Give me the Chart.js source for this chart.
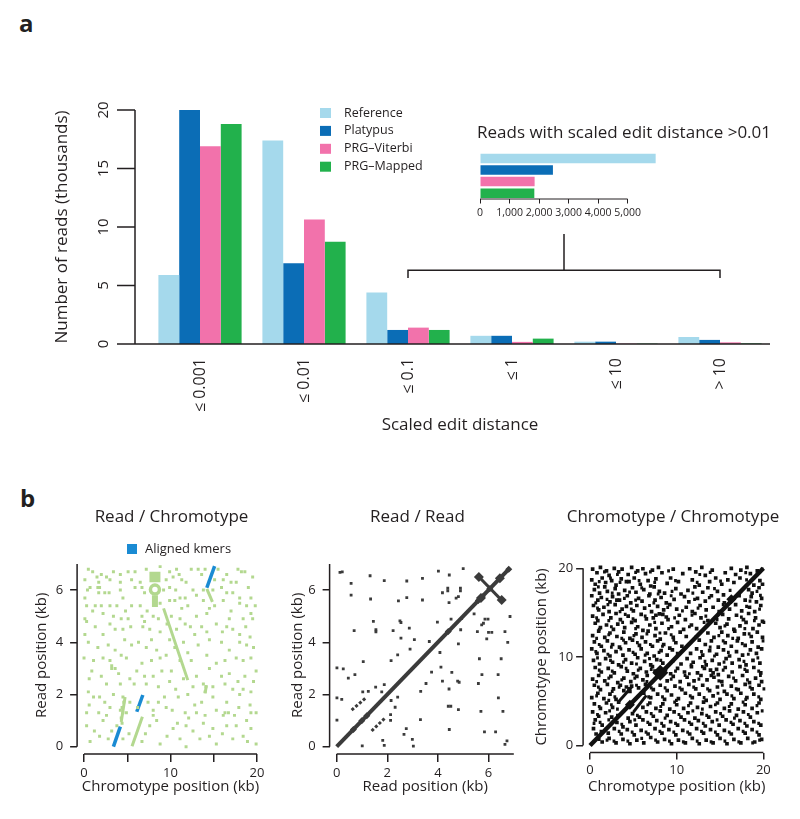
<!DOCTYPE html>
<html>
<head>
<meta charset="utf-8">
<script src="https://cdn.jsdelivr.net/npm/chart.js@4.4.1/dist/chart.umd.min.js"></script>
<style>
  body { margin: 0; background: #fff; width: 800px; height: 819px; position: relative; overflow: hidden; }
  canvas { position: absolute; }
  .panel { position: absolute; font: bold 24px 'Open Sans', sans-serif; color: #231f20; line-height: 24px; }
</style>
</head>
<body>
<div class="panel" style="left:19px; top:11px;">a</div>
<div class="panel" style="left:20px; top:486px;">b</div>
<canvas id="bars" width="800" height="460" style="left:0; top:0;"></canvas>
<canvas id="inset" width="330" height="110" style="left:470px; top:110px;"></canvas>
<canvas id="rc" width="280" height="307" style="left:0; top:490px;"></canvas>
<canvas id="rr" width="270" height="307" style="left:270px; top:490px;"></canvas>
<canvas id="cc" width="280" height="307" style="left:520px; top:490px;"></canvas>
<script>
const INK = '#231f20';
Chart.defaults.font.family = "'Open Sans', 'DejaVu Sans', sans-serif";
Chart.defaults.color = INK;
Chart.defaults.animation = false;

// ---------- panel a: reads per scaled edit distance bin (thousands)
const distanceBins = ['≤ 0.001', '≤ 0.01', '≤ 0.1', '≤ 1', '≤ 10', '> 10'];
const methods = ['Reference', 'Platypus', 'PRG–Viterbi', 'PRG–Mapped'];
const methodColors = ['#a5d9ec', '#0b6db6', '#f272ab', '#22b14c'];
const reference  = [5.9, 17.4, 4.4, 0.7, 0.2, 0.6];
const platypus   = [20.0, 6.9, 1.2, 0.7, 0.2, 0.35];
const prgViterbi = [16.9, 10.65, 1.4, 0.18, 0.03, 0.14];
const prgMapped  = [18.8, 8.75, 1.2, 0.46, 0.03, 0.05];
const countTicks = [0, 5, 10, 15, 20];

// inset: reads with scaled edit distance > 0.01
const insetReads = [5950, 2470, 1850, 1840];
const insetTicks = [0, 1000, 2000, 3000, 4000, 5000];

// ---------- panel b: dot plots (kb)
const rcXTicks = [0, 5, 10, 15, 20], rcXLabels = [0, 10, 20];
const readTicks = [0, 2, 4, 6];
const ccTicks = [0, 10, 20];

// read vs chromotype k-mer hits
const rcDots = [
  [0.5,6.8],[0.1,6.4],[1.5,6.5],[2.0,6.6],[3.4,6.7],[4.2,6.6],[5.1,6.7],[5.9,6.7],[8.8,6.9],[9.9,6.7],[10.7,6.8],[12.4,6.8],[13.2,6.8],[14.0,6.8],[15.5,6.8],[16.5,6.6],[18.2,6.7],[18.6,6.7],
  [1.7,6.3],[3.0,6.4],[4.2,6.3],[5.5,6.4],[6.5,6.3],[9.5,6.4],[10.3,6.5],[11.3,6.4],[11.8,6.3],[15.1,6.4],[16.1,6.4],[17.0,6.3],[17.6,6.3],[1.6,6.1],[1.7,5.9],
  [0.7,6.1],[1.8,6.1],[2.4,5.9],[4.2,6.0],[4.5,5.7],[5.9,6.1],[6.7,6.1],[9.2,6.0],[9.9,6.1],[11.1,5.7],[11.7,5.7],[13.0,5.8],[13.8,6.0],[15.9,6.1],[16.5,5.9],[17.2,5.9],[18.0,5.7],[19.3,5.7],[0.1,5.7],
  [0.3,5.4],[1.3,5.4],[2.0,5.4],[3.0,5.4],[3.8,5.4],[5.5,5.4],[6.5,5.4],[9.9,5.6],[10.5,5.6],[12.0,5.4],[13.8,5.6],[15.1,5.4],[16.1,5.6],[18.0,5.5],[18.8,5.4],
  [0.1,4.9],[0.3,4.8],[2.2,5.1],[3.4,5.0],[4.3,4.9],[5.1,4.9],[6.7,5.0],[7.0,4.8],[8.0,5.0],[8.6,4.9],[10.1,5.0],[11.1,4.9],[13.0,5.0],[14.2,5.1],[16.8,4.9],[18.4,4.9],[19.3,5.1],[19.5,4.9],
  [0.1,4.3],[2.2,4.3],[3.6,4.5],[4.5,4.5],[6.8,4.6],[7.6,4.5],[8.8,4.4],[10.7,4.5],[11.7,4.7],[12.8,4.3],[13.6,4.6],[14.2,4.4],[15.3,4.7],[16.5,4.6],[17.2,4.5],[18.0,4.3],[19.2,4.2],
  [0.5,4.0],[2.8,3.9],[4.7,4.1],[5.5,3.9],[6.3,4.0],[7.8,4.1],[9.9,4.1],[11.5,4.0],[13.2,3.9],[14.5,4.1],[15.9,4.0],[18.8,3.9],[18.0,4.0],
  [0.0,3.4],[1.1,3.3],[2.2,3.4],[3.0,3.3],[4.3,3.5],[4.9,3.4],[6.7,3.2],[7.8,3.3],[8.8,3.4],[9.5,3.5],[11.1,3.3],[12.4,3.3],[14.2,3.5],[15.3,3.2],[16.3,3.3],[17.6,3.4],[18.4,3.3],[19.3,3.4],[3.2,3.1],[3.6,3.0],
  [0.9,2.9],[3.2,3.0],[4.0,2.8],[6.1,2.9],[7.0,2.7],[9.0,2.9],[10.1,2.9],[13.0,2.7],[14.5,3.0],[15.9,2.7],[16.8,2.8],[18.6,2.7],[19.9,2.9],
  [0.5,2.1],[2.6,2.4],[4.2,2.4],[5.3,2.6],[7.2,2.4],[8.6,2.3],[9.9,2.5],[11.5,2.6],[12.6,2.3],[13.8,2.4],[14.9,2.3],[16.3,2.4],[17.2,2.2],[18.4,2.2],[19.3,2.1],
  [1.1,1.9],[1.8,1.9],[2.4,1.7],[3.4,2.0],[5.3,1.7],[7.4,1.7],[9.3,1.9],[10.9,1.9],[12.8,1.6],[13.6,1.7],[14.9,1.9],[16.5,1.7],[18.0,2.0],[19.2,1.6],
  [0.3,1.3],[1.7,1.3],[2.6,1.2],[4.2,1.4],[4.9,1.3],[8.0,1.4],[8.0,1.2],[9.5,1.5],[11.7,1.3],[13.0,1.3],[15.3,1.4],[16.1,1.2],[16.3,1.3],[16.7,1.3],[17.4,1.2],[19.3,1.3],[19.9,1.3],
  [0.3,0.8],[2.2,1.0],[3.8,0.8],[7.6,0.8],[8.4,1.0],[10.3,0.7],[11.8,0.8],[13.8,0.9],[14.9,0.7],[16.5,0.8],[17.6,0.8],[19.3,0.7],
  [0.7,0.2],[1.8,0.4],[4.5,0.3],[6.7,0.2],[8.8,0.1],[11.1,0.3],[11.8,0.0],[13.4,0.3],[14.5,0.4],[15.3,0.1],[17.2,0.3],[18.4,0.4],[19.9,0.1],
  [4.5,1.9],[4.6,1.7],[4.4,1.5],[4.5,1.3],[4.3,1.1],[4.4,0.9],[14.0,2.1],[14.1,2.3],
  [1.0,6.7],[2.6,6.5],[7.2,6.8],[11.0,6.6],[13.6,6.6],[17.8,6.8],[19.5,6.5],
  [0.4,6.0],[2.9,5.9],[7.0,5.9],[10.6,6.0],[12.6,6.0],[14.9,6.0],[19.0,6.1],
  [1.0,5.2],[4.8,5.2],[7.3,5.2],[8.8,5.5],[11.3,5.3],[14.5,5.3],[17.0,5.2],[19.8,5.4],
  [1.3,4.6],[3.0,4.7],[5.4,4.6],[9.6,4.7],[12.3,4.6],[16.0,4.4],[18.7,4.6],
  [1.6,3.8],[3.6,3.7],[7.2,3.8],[8.4,3.7],[10.5,3.8],[12.0,3.6],[16.8,3.7],[19.6,3.8],
  [0.6,2.6],[2.0,2.7],[5.8,2.4],[8.0,2.7],[10.6,2.2],[12.0,2.0],[17.8,2.5],[19.6,2.5],
  [0.6,1.6],[3.0,1.5],[6.2,1.5],[8.6,1.7],[10.2,1.4],[12.1,1.1],[14.0,1.2],[17.9,1.5],[18.8,1.0],
  [1.2,0.6],[2.8,0.3],[3.2,0.6],[5.2,0.5],[7.1,0.5],[9.6,0.4],[10.8,0.9],[12.6,0.6],[16.0,0.5],[18.9,0.2]
];
const rcStreaks = [
  [[9.2,5.3],[12.0,2.55]],
  [[5.55,0.02],[6.75,1.15]],
  [[4.3,0.95],[4.75,1.9]],
  [[14.2,6.05],[14.85,5.55]],
  [[14.0,2.05],[14.15,2.35]]
];
const rcRepeatBlock = [[[8.2,6.3],[8.2,6.7]], [[8.2,5.35],[8.2,5.8]]];
const rcRepeatRing = [[8.2,6.02]];
const rcAligned = [
  [[3.4,0.0],[4.2,0.77]],
  [[6.1,1.34],[6.8,1.98]],
  [[14.2,6.09],[15.1,6.92]]
];

// read vs read
const rrDots = [
  [0.13,6.68],[0.22,6.7],[0.57,6.26],[0.57,5.81],[1.32,6.55],[1.88,6.36],[1.34,5.66],[2.77,6.35],[2.77,5.71],[2.44,5.59],[3.39,6.45],[3.39,5.62],[4.02,6.73],[4.45,6.58],[5.0,6.82],[4.18,5.9],[4.39,6.07],[4.39,5.97],[4.89,6.07],[4.89,5.97],[4.72,5.69],[4.81,5.75],[4.44,5.52],
  [1.45,4.8],[1.55,4.48],[1.55,4.4],[0.69,4.45],[2.23,4.45],[2.5,4.82],[2.54,4.76],[2.87,4.54],[2.54,4.16],[3.07,4.1],[3.66,4.03],[3.98,4.77],[4.52,4.89],[4.94,4.92],[5.43,5.09],[5.86,4.89],[5.98,4.89],[5.73,4.67],[5.8,4.73],[5.56,4.41],[6.0,4.38],[6.13,4.38],[5.93,4.13],[6.65,4.41],[6.85,4.99],[6.76,4.0],[4.9,4.48],[4.81,3.94],[4.08,3.61],
  [2.9,3.74],[2.41,3.52],[2.15,3.3],[1.05,3.26],[0.01,3.02],[0.26,2.98],[0.46,2.63],[0.72,2.76],[1.88,2.38],[1.54,2.28],[1.03,2.1],[1.25,2.12],[1.78,2.1],[2.15,1.77],[2.41,1.9],[2.31,1.51],[2.13,1.23],[2.13,1.01],[3.31,1.04],[3.53,2.42],[3.32,2.12],[3.75,2.86],[4.18,2.51],[4.12,3.05],[4.55,2.85],[4.44,2.21],[4.78,2.51],[4.84,2.47],[4.41,1.55],[4.51,1.55],[4.81,1.42],[4.45,0.66],
  [5.64,3.37],[5.6,2.42],[5.74,2.76],[5.7,1.35],[6.38,2.76],[6.5,3.37],[6.39,1.87],[6.57,1.35],[5.84,0.57],[6.28,0.57],[6.65,0.09],[6.73,0.22],[2.75,0.69],[2.66,0.47],[2.99,0.28],[3.03,0.02],[1.88,0.05],[1.82,0.24],[1.01,0.03],[0.01,1.87],[0.2,1.81],[0.01,1.02]
];
const rrDiagonal = [[0,0],[6.85,6.85]];
const rrInverted = [[5.55,6.58],[6.58,5.55]];
const rrParallel = [[[0.59,1.4],[1.15,1.87]], [[1.38,0.6],[1.94,1.13]]];
const rrBeads = [[0.66,0.66],[0.99,0.99],[1.19,1.19],[4.41,4.41],[5.6,5.6],[5.75,5.75],[6.05,6.05],[6.8,6.8]];
const rrBlobs = [[5.62,6.5],[6.52,5.62],[6.45,6.45],[5.7,5.7]];

// chromotype vs chromotype
const ccDots = [
  [0.3,19.9],[0.8,19.5],[1.2,20.1],[1.9,19.7],[2.2,19.2],[2.8,20.0],[3.3,19.6],[3.7,19.9],[4.4,19.3],[4.8,20.1],[5.5,19.7],[6.1,19.95],[6.4,19.4],[7.2,19.8],[7.9,20.1],[8.3,19.5],[9.6,19.9],[10.7,19.4],[11.5,19.95],[12.2,19.6],[12.9,20.1],[13.3,19.2],[14.1,19.8],[15.6,19.5],[16.3,20.0],[16.8,19.3],[17.4,19.8],[18.1,20.1],[18.5,19.4],[19.3,19.7],
  [0.2,18.7],[0.6,18.2],[1.4,18.9],[1.8,18.4],[2.5,18.6],[3.0,18.1],[3.6,18.8],[4.2,18.5],[4.5,18.5],[5.1,18.9],[5.8,18.2],[6.7,18.6],[7.0,18.0],[7.6,18.8],[8.9,18.3],[9.3,18.9],[10.2,18.5],[11.8,18.7],[12.6,18.1],[13.8,18.5],[14.5,18.9],[15.2,18.2],[15.9,18.7],[16.6,18.4],[17.3,18.9],[18.9,18.1],[19.6,18.6],[19.9,18.2],
  [0.5,17.6],[1.1,17.2],[1.7,17.9],[2.0,17.4],[2.9,17.7],[3.3,17.1],[4.0,17.5],[4.9,17.8],[5.3,17.3],[6.2,17.6],[6.9,17.1],[7.4,17.9],[8.0,17.4],[8.6,17.2],[9.9,17.7],[10.5,17.1],[11.3,17.5],[12.1,17.9],[13.0,17.3],[13.6,17.8],[14.7,17.4],[15.4,17.0],[18.3,17.6],[18.7,17.2],[19.5,17.8],
  [0.2,16.9],[0.9,16.4],[1.3,16.7],[2.3,16.2],[2.6,16.8],[3.1,16.4],[3.4,16.4],[4.3,16.9],[4.7,16.1],[5.6,16.6],[6.0,16.3],[6.8,16.9],[7.5,16.4],[8.2,16.7],[8.8,16.1],[9.7,16.5],[10.9,16.8],[11.4,16.2],[12.4,16.6],[13.3,16.3],[14.0,16.9],[14.8,16.4],[15.5,16.1],[17.2,16.9],[17.9,16.4],[18.6,16.8],[19.2,16.2],[19.8,16.6],
  [0.4,15.8],[1.0,15.3],[1.6,15.6],[2.2,15.1],[2.9,15.9],[3.7,15.4],[4.2,15.7],[5.0,15.2],[5.4,15.8],[6.3,15.5],[7.1,15.1],[7.8,15.7],[8.5,15.3],[9.2,15.9],[10.0,15.4],[11.1,15.6],[11.8,15.1],[12.7,15.8],[13.4,15.3],[14.2,15.6],[14.9,15.1],[16.1,15.4],[16.8,15.9],[17.5,15.2],[18.4,15.6],[19.0,15.1],[19.7,15.8],
  [0.3,14.6],[0.9,14.1],[1.5,14.8],[2.4,14.4],[3.0,14.9],[3.5,14.2],[4.4,14.6],[5.2,14.1],[5.9,14.8],[6.5,14.3],[7.3,14.4],[7.6,14.7],[8.0,14.85],[8.4,14.8],[8.8,14.5],[9.0,14.2],[10.3,14.7],[11.0,14.2],[12.1,14.9],[12.8,14.4],[13.6,14.1],[15.3,14.8],[16.0,14.3],[16.9,14.7],[17.7,14.2],[18.3,14.9],[19.1,14.4],[19.9,14.0],
  [0.6,13.8],[1.2,13.3],[1.9,13.6],[2.7,13.1],[3.2,13.7],[4.0,13.3],[4.8,13.9],[5.5,13.4],[6.1,13.0],[6.9,13.6],[7.6,13.2],[8.3,13.8],[9.4,13.4],[10.1,13.9],[10.8,13.1],[11.7,13.6],[12.3,13.2],[14.5,13.8],[15.0,13.3],[15.8,13.7],[16.6,13.1],[17.3,13.5],[18.0,13.9],[18.8,13.2],[19.5,13.6],
  [0.3,12.4],[1.0,12.9],[1.7,12.2],[2.3,12.7],[3.1,12.3],[3.9,12.8],[4.6,12.1],[5.3,12.6],[6.0,12.2],[6.7,12.9],[7.5,12.4],[8.1,12.0],[8.7,12.7],[9.6,12.2],[10.4,12.8],[11.1,12.3],[13.6,12.7],[14.3,12.2],[15.2,12.8],[15.9,12.4],[16.7,12.9],[17.1,12.1],[17.8,12.6],[18.6,12.3],[19.3,12.8],[19.9,12.2],
  [0.5,11.7],[1.3,11.2],[2.0,11.8],[2.6,11.4],[3.4,11.1],[4.1,11.6],[4.9,11.9],[5.7,11.3],[6.4,11.7],[7.2,11.2],[7.8,11.8],[8.5,11.4],[9.2,11.0],[9.9,11.6],[10.6,11.2],[12.6,11.9],[13.3,11.4],[14.0,11.8],[14.8,11.1],[15.6,11.6],[16.3,11.2],[17.0,11.8],[17.9,11.3],[18.7,11.7],[19.4,11.1],
  [0.2,10.9],[0.8,10.4],[1.6,10.7],[2.3,10.1],[3.0,10.6],[3.8,10.2],[4.5,10.8],[5.2,10.3],[5.9,10.9],[6.6,10.4],[7.4,10.1],[8.2,10.7],[8.9,10.2],[9.5,10.8],[11.6,10.4],[12.3,10.9],[13.0,10.2],[13.8,10.7],[14.6,10.3],[15.4,10.8],[16.1,10.1],[16.9,10.6],[17.6,10.2],[18.5,10.8],[19.2,10.4],[19.8,10.9],
  [0.4,9.6],[1.1,9.2],[1.8,9.8],[2.6,9.4],[3.3,9.1],[4.1,9.7],[4.8,9.3],[5.5,9.9],[6.3,9.5],[7.0,9.1],[7.7,9.7],[8.4,9.3],[10.5,9.2],[11.2,9.8],[11.9,9.4],[12.7,9.9],[13.4,9.1],[14.1,9.6],[14.9,9.2],[15.7,9.8],[16.4,9.3],[17.2,9.7],[18.0,9.1],[18.8,9.6],[19.6,9.3],
  [0.6,8.8],[1.3,8.3],[2.1,8.7],[2.8,8.2],[3.6,8.9],[4.3,8.4],[5.0,8.1],[5.8,8.7],[6.5,8.3],[7.2,8.9],[7.5,8.4],[8.7,8.6],[9.3,8.1],[10.1,8.7],[10.9,8.3],[11.7,8.9],[12.4,8.2],[13.2,8.7],[13.9,8.5],[14.2,8.2],[14.6,8.6],[14.8,8.0],[15.6,8.8],[16.4,8.3],[17.3,8.9],[18.1,8.4],[18.9,8.8],[19.7,8.2],
  [0.3,7.5],[1.0,7.9],[1.7,7.3],[2.4,7.8],[3.2,7.1],[3.9,7.6],[4.7,7.2],[5.4,7.8],[6.1,7.4],[6.6,7.9],[8.9,7.3],[9.6,7.8],[10.4,7.2],[11.2,7.7],[12.0,7.3],[12.8,7.9],[13.5,7.4],[14.3,7.7],[14.0,7.9],[15.2,7.2],[16.0,7.8],[16.8,7.3],[17.6,7.9],[18.4,7.1],[19.1,7.6],[19.8,7.2],
  [0.5,6.8],[1.2,6.3],[2.0,6.9],[2.7,6.4],[3.5,6.8],[3.9,6.2],[4.2,6.6],[4.5,6.4],[4.8,6.7],[4.6,6.1],[5.6,6.5],[6.4,6.9],[7.3,6.3],[8.1,6.8],[8.9,6.2],[9.8,6.7],[10.6,6.3],[11.4,6.9],[12.2,6.4],[13.0,6.8],[13.8,6.2],[14.7,6.6],[15.5,6.1],[16.3,6.7],[17.1,6.3],[17.9,6.9],[18.7,6.4],[19.5,6.8],
  [0.2,5.4],[0.9,5.9],[1.6,5.3],[2.3,5.8],[3.0,5.2],[6.2,5.9],[7.0,5.4],[7.8,5.8],[8.6,5.2],[9.4,5.7],[10.2,5.3],[11.0,5.9],[11.8,5.4],[12.6,5.8],[13.4,5.1],[14.2,5.6],[15.0,5.2],[15.8,5.8],[16.6,5.3],[17.4,5.9],[18.1,5.4],[18.9,5.8],[19.7,5.2],
  [0.5,4.7],[1.2,4.2],[1.9,4.8],[2.6,4.3],[3.3,4.9],[6.1,4.3],[6.9,4.8],[7.6,4.2],[8.4,4.7],[9.2,4.1],[10.0,4.6],[10.8,4.2],[11.6,4.8],[12.4,4.3],[13.1,4.9],[13.9,4.4],[14.7,4.8],[15.5,4.2],[16.3,4.7],[17.1,4.1],[17.9,4.6],[18.7,4.2],[19.5,4.8],
  [0.3,3.8],[1.0,3.3],[1.8,3.7],[2.5,3.2],[4.4,3.1],[4.9,3.6],[5.7,3.2],[6.5,3.8],[7.3,3.3],[8.1,3.9],[8.9,3.4],[9.7,3.8],[10.5,3.2],[11.3,3.7],[12.1,3.1],[12.9,3.6],[13.7,3.2],[14.5,3.8],[15.3,3.3],[16.1,3.9],[16.9,3.4],[17.7,3.8],[18.5,3.2],[19.3,3.7],
  [0.6,2.9],[1.4,2.3],[3.1,2.6],[3.8,2.1],[4.6,2.7],[5.3,2.3],[6.1,2.9],[6.9,2.4],[7.7,2.8],[8.5,2.2],[9.3,2.7],[10.1,2.3],[10.9,2.9],[11.7,2.4],[12.5,2.8],[13.3,2.2],[14.1,2.7],[14.9,2.3],[15.7,2.9],[16.5,2.4],[17.3,2.8],[18.1,2.2],[18.9,2.7],[19.7,2.3],
  [0.4,1.9],[0.7,1.3],[2.1,1.4],[2.8,1.9],[3.6,1.3],[4.3,1.8],[5.1,1.2],[5.9,1.7],[6.7,1.3],[7.5,1.9],[8.3,1.4],[9.1,1.8],[9.9,1.2],[10.7,1.7],[11.5,1.3],[12.3,1.9],[13.1,1.4],[13.9,1.8],[14.7,1.2],[15.5,1.7],[16.3,1.3],[17.1,1.9],[17.9,1.4],[18.7,1.8],[19.5,1.2],
  [1.4,0.4],[2.2,0.8],[3.0,0.3],[3.8,0.7],[4.6,0.2],[5.4,0.6],[6.2,0.3],[7.0,0.9],[7.8,0.4],[8.6,0.7],[9.4,0.2],[10.2,0.6],[11.0,0.3],[11.8,0.8],[12.6,0.2],[13.4,0.6],[14.2,0.3],[15.0,0.8],[15.8,0.2],[16.6,0.7],[17.4,0.3],[18.2,0.8],[19.0,0.4],[19.8,0.7]
];
// short horizontal runs of merged hits
const ccRuns = [
  [1.5,19.6],[3.0,19.3],[5.1,19.55],[6.8,19.6],[8.9,19.7],[12.5,19.3],[13.7,19.55],[17.8,19.5],[19.7,19.9],
  [0.9,18.5],[2.2,18.9],[3.3,18.4],[5.5,18.6],[7.3,18.4],[9.7,18.6],[12.2,18.4],[14.9,18.55],[17.9,18.7],
  [0.8,17.9],[2.4,17.2],[4.4,17.3],[5.8,17.8],[7.7,17.1],[9.3,17.4],[11.7,17.2],[14.2,17.7],[16.0,17.5],[19.1,17.4],
  [0.5,16.1],[1.8,16.5],[3.8,16.6],[5.1,16.4],[7.2,16.1],[9.2,16.9],[11.9,16.5],[13.6,16.7],[18.3,16.3],[19.5,16.95],
  [0.7,15.5],[1.9,15.9],[3.3,15.1],[4.6,15.4],[6.7,15.8],[8.8,15.6],[10.5,15.2],[12.3,15.5],[15.2,15.9],[17.9,15.7],[19.4,15.4],
  [0.6,14.4],[2.0,14.1],[3.9,14.8],[4.8,14.3],[6.2,14.6],[9.6,14.4],[11.6,14.7],[13.2,14.6],[14.5,14.2],[17.3,14.5],[18.8,14.1],
  [0.9,13.1],[2.3,13.4],[3.6,13.9],[5.1,13.2],[7.3,13.9],[8.9,13.2],[11.3,13.4],[13.0,13.9],[15.4,13.5],[17.7,13.2],[19.9,13.9],
  [0.6,12.1],[2.0,12.5],[3.5,12.1],[4.9,12.4],[6.4,12.6],[7.9,12.7],[9.2,12.5],[12.0,12.2],[14.7,12.4],[16.3,12.1],[18.2,12.6],
  [0.9,11.4],[2.3,11.1],[3.7,11.9],[5.3,11.6],[6.8,11.4],[8.2,11.2],[9.5,11.9],[11.3,11.5],[13.7,11.1],[15.2,11.8],[17.4,11.5],[19.8,11.8],
  [0.5,10.6],[1.9,10.3],[3.4,10.9],[4.8,10.5],[6.2,10.2],[7.8,10.5],[9.9,10.4],[12.7,10.6],[14.2,10.1],[15.8,10.5],[18.1,10.3],
  [0.7,9.9],[2.2,9.6],[3.7,9.4],[5.2,9.2],[6.7,9.8],[8.0,9.6],[9.4,9.5],[11.5,9.1],[13.1,9.5],[15.3,9.4],[17.6,9.5],[19.2,9.9],
  [0.9,8.5],[2.4,8.4],[4.0,8.7],[5.4,8.5],[6.9,8.6],[9.7,8.4],[11.3,8.1],[12.8,8.9],[15.2,8.5],[17.7,8.6],[19.3,8.4],
  [0.6,7.2],[2.0,7.6],[3.5,7.4],[5.0,7.6],[6.4,7.2],[9.2,7.5],[10.8,7.9],[12.4,7.5],[14.7,7.3],[16.4,7.6],[18.0,7.4],[19.5,7.9],
  [0.8,6.6],[2.4,6.1],[3.2,6.6],[5.2,6.8],[6.9,6.5],[8.5,6.5],[10.2,6.5],[11.8,6.6],[13.4,6.4],[15.1,6.8],[16.7,6.4],[18.3,6.6],[19.9,6.4],
  [0.6,5.6],[2.0,5.1],[2.7,5.5],[6.6,5.5],[8.2,5.5],[9.8,5.1],[11.4,5.6],[13.0,5.4],[14.6,5.9],[16.2,5.6],[17.8,5.2],[19.3,5.5],
  [0.9,4.4],[2.3,4.6],[3.0,4.1],[6.5,4.6],[8.0,4.4],[9.6,4.9],[11.2,4.5],[12.8,4.1],[14.3,4.6],[15.9,4.4],[17.5,4.9],[19.1,4.5],
  [0.7,3.5],[2.1,3.9],[3.0,3.4],[5.3,3.4],[6.9,3.6],[8.5,3.1],[10.1,3.5],[11.7,3.9],[13.3,3.4],[14.9,3.6],[16.5,3.1],[18.1,3.5],[19.7,3.9],
  [0.3,2.5],[1.0,2.6],[2.0,2.9],[3.5,2.4],[5.0,2.9],[6.5,2.6],[8.1,2.5],[9.7,2.5],[11.3,2.6],[12.9,2.5],[14.5,2.9],[16.1,2.6],[17.7,2.5],[19.3,2.5],
  [1.1,1.6],[1.7,1.9],[3.2,1.6],[4.7,1.5],[6.3,1.5],[7.9,1.6],[9.5,1.5],[11.1,1.5],[12.7,1.6],[14.3,1.5],[15.9,1.5],[17.5,1.6],[19.1,1.5],
  [0.9,0.7],[1.8,0.6],[2.6,0.5],[4.2,0.5],[5.8,0.8],[7.4,0.6],[9.0,0.5],[10.6,0.4],[12.2,0.5],[13.8,0.4],[15.4,0.5],[17.0,0.4],[18.6,0.3],[19.4,0.6]
];
const ccDiagonal = [[0,0],[20,20]];
const ccParallel = [[[3.27,4.9],[4.8,6.6]], [[5.0,3.77],[6.5,5.66]]];
const ccBlobs = [[8.1,8.2]];
const ccSmallBlobs = [[16.3,16.5],[4.6,4.6]];

// ---------- helpers
const xy = pts => pts.map(([x, y]) => ({x, y}));
const dots = (pts, color, r, extra) => Object.assign({
  data: xy(pts), showLine: false, pointStyle: 'rect', pointRadius: r,
  backgroundColor: color, pointBackgroundColor: color, pointBorderWidth: 0
}, extra || {});
const seg = (pair, color, w, extra) => Object.assign({
  data: xy(pair), showLine: true, borderColor: color, borderWidth: w,
  pointRadius: 0, borderCapStyle: 'butt'
}, extra || {});

// R style axes: line only between the end ticks, sitting on the plot edge
const rAxes = (xr, yr) => ({
  id: 'rAxes',
  afterDraw(chart) {
    const {ctx, chartArea: ca, scales: {x, y}} = chart;
    ctx.save();
    ctx.strokeStyle = INK;
    ctx.lineWidth = 1.5;
    ctx.beginPath();
    ctx.moveTo(x.getPixelForValue(xr[0]), ca.bottom);
    ctx.lineTo(x.getPixelForValue(xr[1]), ca.bottom);
    ctx.moveTo(ca.left, y.getPixelForValue(yr[0]));
    ctx.lineTo(ca.left, y.getPixelForValue(yr[1]));
    ctx.stroke();
    ctx.restore();
  }
});

// plot heading centred where the original puts it
const heading = (text, cx) => ({
  id: 'heading',
  afterDraw(chart) {
    const {ctx} = chart;
    ctx.save();
    ctx.fillStyle = INK;
    ctx.font = "17px 'Open Sans', sans-serif";
    ctx.textAlign = 'center';
    ctx.textBaseline = 'middle';
    ctx.fillText(text, cx, 27);
    ctx.restore();
  }
});

function axis(a, dir) {
  return {
    type: 'linear', min: a.min, max: a.max,
    afterBuildTicks: s => { s.ticks = a.ticks.map(v => ({value: v})); },
    grid: {display: true, drawOnChartArea: false, drawTicks: true, tickLength: a.tickLen, color: INK, lineWidth: 1.5},
    border: {display: false},
    ticks: {autoSkip: false, maxRotation: 0, padding: a.pad, font: {size: 13}, color: INK,
            callback: v => (a.labels || a.ticks).includes(v) ? String(v) : ''},
    title: {display: true, text: a.title, font: {size: 15}, color: INK,
            padding: dir === 'x' ? {top: 0, bottom: a.titlePad} : {top: a.titlePad, bottom: 0}},
    afterFit: s => { if (dir === 'x') s.height = a.size; else s.width = a.size; }
  };
}

function dotPlot(id, cfg) {
  return new Chart(document.getElementById(id), {
    type: 'scatter',
    data: {datasets: cfg.datasets},
    options: {
      responsive: false, events: [],
      layout: {padding: {left: 0, right: cfg.padRight, top: cfg.top, bottom: 0}},
      plugins: {legend: {display: false}, tooltip: {enabled: false}},
      scales: {x: axis(cfg.x, 'x'), y: axis(cfg.y, 'y')}
    },
    plugins: [rAxes(cfg.x.end, cfg.y.end), heading(cfg.title, cfg.titleX)].concat(cfg.plugins || [])
  });
}

// ---------- panel a plugins
const countAxis = {
  id: 'countAxis',
  afterDatasetsDraw(chart) {
    const {ctx, chartArea, scales: {y}} = chart;
    const ax = chartArea.left - 13;
    const y0 = y.getPixelForValue(0);
    ctx.save();
    ctx.strokeStyle = INK;
    ctx.lineWidth = 1.5;
    ctx.beginPath();
    ctx.moveTo(ax, y0);
    ctx.lineTo(ax, y.getPixelForValue(countTicks[countTicks.length - 1]));
    countTicks.forEach(v => {
      const py = y.getPixelForValue(v);
      ctx.moveTo(ax - 18, py);
      ctx.lineTo(ax, py);
    });
    ctx.moveTo(ax, y0);
    ctx.lineTo(chartArea.right - 2, y0);
    ctx.stroke();
    ctx.fillStyle = INK;
    ctx.font = "15px 'Open Sans', sans-serif";
    ctx.textAlign = 'center';
    ctx.textBaseline = 'middle';
    countTicks.forEach(v => {
      ctx.save();
      ctx.translate(ax - 31.5, y.getPixelForValue(v));
      ctx.rotate(-Math.PI / 2);
      ctx.fillText(String(v), 0, 0);
      ctx.restore();
    });
    ctx.restore();
  }
};

const methodLegend = {
  id: 'methodLegend',
  afterDraw(chart) {
    const {ctx} = chart;
    ctx.save();
    ctx.font = "12.5px 'Open Sans', sans-serif";
    ctx.textBaseline = 'middle';
    chart.data.datasets.forEach((ds, i) => {
      const cy = 113 + i * 17.9;
      ctx.fillStyle = ds.backgroundColor;
      ctx.fillRect(320, cy - 5, 11, 10);
      ctx.fillStyle = INK;
      ctx.fillText(ds.label, 344, cy);
    });
    ctx.restore();
  }
};

// bracket from the "≤ 0.1" bin to the "> 10" bin, pointing at the inset
const bracket = {
  id: 'bracket',
  afterDraw(chart) {
    const {ctx, scales: {x, y}} = chart;
    const x1 = x.getPixelForValue(2), x2 = x.getPixelForValue(5);
    const yb = y.getPixelForValue(6.3), ye = y.getPixelForValue(5.65), yt = y.getPixelForValue(9.4);
    const xm = (x1 + x2) / 2;
    ctx.save();
    ctx.strokeStyle = INK;
    ctx.lineWidth = 1.5;
    ctx.beginPath();
    ctx.moveTo(x1, ye); ctx.lineTo(x1, yb); ctx.lineTo(x2, yb); ctx.lineTo(x2, ye);
    ctx.moveTo(xm, yb); ctx.lineTo(xm, yt);
    ctx.stroke();
    ctx.restore();
  }
};

new Chart(document.getElementById('bars'), {
  type: 'bar',
  data: {
    labels: distanceBins,
    datasets: [reference, platypus, prgViterbi, prgMapped].map((d, i) => ({
      label: methods[i], data: d, backgroundColor: methodColors[i],
      borderWidth: 0, barPercentage: 1, categoryPercentage: 0.8
    }))
  },
  options: {
    responsive: false, events: [],
    layout: {padding: {left: 0, right: 28, top: 110, bottom: 0}},
    plugins: {legend: {display: false}, tooltip: {enabled: false}},
    scales: {
      x: {
        grid: {display: false, drawTicks: false}, border: {display: false},
        ticks: {minRotation: 90, maxRotation: 90, padding: 14, font: {size: 16}, color: INK},
        title: {display: true, text: 'Scaled edit distance', font: {size: 17}, color: INK, padding: {top: 0, bottom: 25}},
        afterFit: s => { s.height = 116; }
      },
      y: {
        min: 0, max: 20,
        grid: {display: false}, border: {display: false},
        ticks: {display: false},
        title: {display: true, text: 'Number of reads (thousands)', font: {size: 17}, color: INK, padding: {top: 51.5, bottom: 0}},
        afterFit: s => { s.width = 148; }
      }
    }
  },
  plugins: [countAxis, methodLegend, bracket]
});

const insetAxis = {
  id: 'insetAxis',
  afterDraw(chart) {
    const {ctx, chartArea, scales: {x}} = chart;
    ctx.save();
    ctx.strokeStyle = INK;
    ctx.lineWidth = 1;
    ctx.beginPath();
    ctx.moveTo(x.getPixelForValue(insetTicks[0]), chartArea.bottom);
    ctx.lineTo(x.getPixelForValue(insetTicks[insetTicks.length - 1]), chartArea.bottom);
    ctx.stroke();
    ctx.restore();
  }
};

new Chart(document.getElementById('inset'), {
  type: 'bar',
  data: {
    labels: methods,
    datasets: [{data: insetReads, backgroundColor: methodColors, borderWidth: 0, barPercentage: 0.82, categoryPercentage: 1}]
  },
  options: {
    indexAxis: 'y', responsive: false, events: [],
    layout: {padding: {left: 7, right: 10, top: 0, bottom: 0}},
    plugins: {
      legend: {display: false}, tooltip: {enabled: false},
      title: {display: true, text: 'Reads with scaled edit distance >0.01', align: 'start', color: INK,
              font: {size: 17, weight: 'normal'}, padding: {top: 12.8, bottom: 9.4}}
    },
    scales: {
      x: {
        min: 0, max: 10500,
        afterBuildTicks: s => { s.ticks = insetTicks.map(v => ({value: v})); },
        grid: {display: true, drawOnChartArea: false, drawTicks: true, tickLength: 4.5, color: INK, lineWidth: 1},
        border: {display: false},
        ticks: {font: {size: 10.5}, padding: 3, color: INK, maxRotation: 0, autoSkip: false,
                callback: v => Number(v).toLocaleString('en-US')},
        afterFit: s => { s.height = 21; }
      },
      y: {grid: {display: false}, border: {display: false}, ticks: {display: false}, afterFit: s => { s.width = 3; }}
    }
  },
  plugins: [insetAxis]
});

// ---------- panel b
const GREEN = '#b3d88f', KMER = '#1a8bd3';

const kmerKey = {
  id: 'kmerKey',
  afterDraw(chart) {
    const ds = chart.data.datasets.find(d => d.label);
    const {ctx} = chart;
    ctx.save();
    ctx.fillStyle = ds.borderColor;
    ctx.fillRect(127, 54, 10, 10);
    ctx.fillStyle = INK;
    ctx.font = "13px 'Open Sans', sans-serif";
    ctx.textBaseline = 'middle';
    ctx.fillText(ds.label, 145, 59);
    ctx.restore();
  }
};

dotPlot('rc', {
  title: 'Read / Chromotype', titleX: 171.5, padRight: 16.1, top: 66.7,
  x: {min: -0.8, max: 20.8, ticks: rcXTicks, labels: rcXLabels, end: [0, 20], tickLen: 8, pad: 3,
      title: 'Chromotype position (kb)', titlePad: 1, size: 43},
  y: {min: -0.28, max: 7.28, ticks: readTicks, end: [0, 7], tickLen: 7, pad: 7,
      title: 'Read position (kb)', titlePad: 32.7, size: 77.1},
  datasets: [
    dots(rcDots, GREEN, 2.1),
    ...rcStreaks.map(s => seg(s, GREEN, 3)),
    seg(rcRepeatBlock[0], GREEN, 11),
    seg(rcRepeatBlock[1], GREEN, 6),
    dots(rcRepeatRing, GREEN, 4.5, {pointStyle: 'circle', pointBackgroundColor: 'rgba(0,0,0,0)', pointBorderColor: GREEN, pointBorderWidth: 3.5}),
    ...rcAligned.map((s, i) => seg(s, KMER, 3.5, i === 0 ? {label: 'Aligned kmers'} : {}))
  ],
  plugins: [kmerKey]
});

const DARK = '#3b3b3b';
dotPlot('rr', {
  title: 'Read / Read', titleX: 147.5, padRight: 19.1, top: 66.7,
  x: {min: -0.28, max: 7.28, ticks: readTicks, end: [0, 7], tickLen: 8, pad: 3,
      title: 'Read position (kb)', titlePad: 1, size: 43},
  y: {min: -0.28, max: 7.28, ticks: readTicks, end: [0, 7], tickLen: 7, pad: 7,
      title: 'Read position (kb)', titlePad: 18.5, size: 59.6},
  datasets: [
    dots(rrDots, DARK, 2),
    seg(rrDiagonal, DARK, 4),
    seg(rrInverted, DARK, 3),
    ...rrParallel.map(s => seg(s, DARK, 3, {borderDash: [3, 2]})),
    dots(rrBeads, DARK, 3.5, {pointStyle: 'rectRot'}),
    dots(rrBlobs, DARK, 5, {pointStyle: 'rectRot'})
  ]
});

const BLACK = '#111111';
dotPlot('cc', {
  title: 'Chromotype / Chromotype', titleX: 153, padRight: 29.7, top: 71.2,
  x: {min: -0.8, max: 20.8, ticks: ccTicks, end: [0, 20], tickLen: 7, pad: 2.6,
      title: 'Chromotype position (kb)', titlePad: 1.3, size: 44.4},
  y: {min: -0.8, max: 20.8, ticks: ccTicks, end: [0, 20], tickLen: 7, pad: 3,
      title: 'Chromotype position (kb)', titlePad: 12.7, size: 63.1},
  datasets: [
    dots(ccDots, BLACK, 2.6),
    dots(ccRuns, BLACK, 2.8, {pointStyle: 'dash', pointBorderColor: BLACK, pointBorderWidth: 3.2}),
    seg(ccDiagonal, BLACK, 4.5),
    ...ccParallel.map(s => seg(s, BLACK, 3)),
    dots(ccBlobs, BLACK, 8, {pointStyle: 'rectRot'}),
    dots(ccSmallBlobs, BLACK, 5, {pointStyle: 'rectRot'})
  ]
});
</script>
</body>
</html>
